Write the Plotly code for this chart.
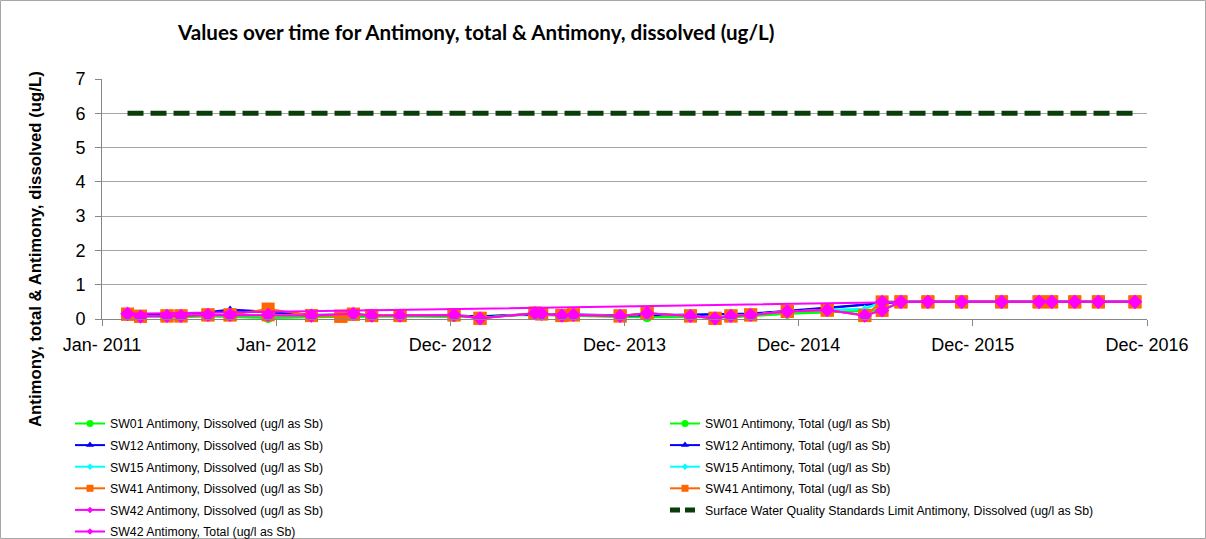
import plotly.graph_objects as go
import pandas as pd

# ---- axis setup -------------------------------------------------------------
x_start, x_end = "2011-01-05", "2016-12-14"
x_tick_labels = ["Jan- 2011", "Jan- 2012", "Dec- 2012", "Dec- 2013",
                 "Dec- 2014", "Dec- 2015", "Dec- 2016"]
y_ticks = [0, 1, 2, 3, 4, 5, 6, 7]

# ---- sampling dates ---------------------------------------------------------
sample_dates = [
    "2011-02-27", "2011-03-26", "2011-05-20", "2011-06-18", "2011-08-13",
    "2011-09-28", "2011-12-16", "2012-03-15", "2012-06-10", "2012-07-18",
    "2012-09-15", "2013-01-05", "2013-02-28", "2013-06-22", "2013-07-06",
    "2013-08-17", "2013-09-10", "2013-12-16", "2014-02-10", "2014-05-11",
    "2014-07-01", "2014-08-03", "2014-09-13", "2014-11-28", "2015-02-19",
    "2015-05-08", "2015-06-13", "2015-07-22", "2015-09-16", "2015-11-25",
    "2016-02-16", "2016-05-04", "2016-05-30", "2016-07-17", "2016-09-04",
    "2016-11-19",
]

# SW42 total antimony (ug/l as Sb)
sw42_total = [
    0.15, 0.07, 0.09, 0.09, 0.12, 0.12, 0.12, 0.10, 0.15, 0.10,
    0.10, 0.12, 0.02, 0.17, 0.15, 0.10, 0.12, 0.09, 0.17, 0.09,
    0.02, 0.09, 0.12, 0.22, 0.26, 0.10, 0.25, 0.50, 0.50, 0.50,
    0.50, 0.50, 0.50, 0.50, 0.50, 0.50,
]

# SW42 dissolved antimony
sw42_dissolved_dates = [
    "2011-02-27", "2015-06-13", "2015-07-22", "2015-09-16", "2015-11-25",
    "2016-02-16", "2016-05-04", "2016-05-30", "2016-07-17", "2016-09-04",
    "2016-11-19",
]
sw42_dissolved = [0.15, 0.50, 0.50, 0.50, 0.50, 0.50, 0.50, 0.50, 0.50, 0.50, 0.50]

# SW41 dissolved / total antimony
sw41_dates = [
    "2011-02-27", "2011-03-26", "2011-05-20", "2011-06-18", "2011-08-13",
    "2011-09-28", "2011-12-16", "2012-03-15", "2012-05-15", "2012-06-10",
    "2012-07-18", "2012-09-15", "2013-01-05", "2013-02-28", "2013-06-22",
    "2013-07-06", "2013-08-17", "2013-09-10", "2013-12-16", "2014-02-10",
    "2014-05-11", "2014-07-01", "2014-08-03", "2014-09-13", "2014-11-28",
    "2015-02-19", "2015-05-08", "2015-06-13", "2015-07-22", "2015-09-16",
    "2015-11-25", "2016-02-16", "2016-05-04", "2016-05-30", "2016-07-17",
    "2016-09-04", "2016-11-19",
]
sw41_dissolved = [
    0.14, 0.08, 0.09, 0.09, 0.12, 0.12, 0.12, 0.10, 0.08, 0.14,
    0.10, 0.10, 0.12, 0.02, 0.17, 0.15, 0.10, 0.12, 0.09, 0.17,
    0.09, 0.02, 0.09, 0.12, 0.22, 0.26, 0.10, 0.25, 0.50, 0.50,
    0.50, 0.50, 0.50, 0.50, 0.50, 0.50, 0.50,
]
sw41_total = [
    0.14, 0.08, 0.09, 0.09, 0.12, 0.12, 0.29, 0.10, 0.08, 0.14,
    0.10, 0.10, 0.12, 0.02, 0.17, 0.15, 0.10, 0.12, 0.09, 0.17,
    0.09, 0.02, 0.09, 0.12, 0.22, 0.26, 0.10, 0.50, 0.50, 0.50,
    0.50, 0.50, 0.50, 0.50, 0.50, 0.50, 0.50,
]

# SW12 dissolved / total antimony
sw12_dates = [
    "2011-02-27", "2011-06-18", "2011-09-28", "2011-12-16", "2012-03-15",
    "2012-09-15", "2013-01-05", "2013-02-28", "2013-06-22", "2013-12-16",
    "2014-05-11", "2014-09-13", "2014-11-28", "2015-02-19", "2015-06-13",
    "2015-07-22", "2015-11-25", "2016-05-04", "2016-11-19",
]
sw12_dissolved = [0.14, 0.10, 0.25, 0.20, 0.12, 0.10, 0.10, 0.06, 0.14, 0.10,
                  0.12, 0.15, 0.22, 0.32, 0.45, 0.50, 0.50, 0.50, 0.50]
sw12_total = [0.15, 0.10, 0.28, 0.20, 0.13, 0.11, 0.11, 0.07, 0.15, 0.11,
              0.12, 0.16, 0.24, 0.34, 0.46, 0.50, 0.50, 0.50, 0.50]

# SW15 dissolved / total antimony (same sampling rounds as SW42)
sw15_dissolved = [
    0.15, 0.07, 0.09, 0.09, 0.12, 0.12, 0.12, 0.10, 0.15, 0.10,
    0.10, 0.12, 0.02, 0.17, 0.15, 0.10, 0.12, 0.09, 0.17, 0.09,
    0.02, 0.09, 0.12, 0.22, 0.26, 0.28, 0.50, 0.50, 0.50, 0.50,
    0.50, 0.50, 0.50, 0.50, 0.50, 0.50,
]
sw15_total = [
    0.15, 0.08, 0.09, 0.09, 0.12, 0.12, 0.12, 0.10, 0.15, 0.10,
    0.10, 0.12, 0.03, 0.17, 0.15, 0.10, 0.12, 0.09, 0.17, 0.09,
    0.03, 0.09, 0.12, 0.22, 0.26, 0.30, 0.50, 0.50, 0.50, 0.50,
    0.50, 0.50, 0.50, 0.50, 0.50, 0.50,
]

# SW01 dissolved / total antimony
sw01_dates = [
    "2011-02-27", "2011-05-20", "2011-06-18", "2011-08-13", "2011-12-16",
    "2012-03-15", "2012-09-15", "2013-01-05", "2013-06-22", "2013-12-16",
    "2014-02-10", "2014-08-03", "2014-11-28", "2015-06-13", "2015-07-22",
    "2015-11-25", "2016-05-04", "2016-11-19",
]
sw01_dissolved = [0.10, 0.05, 0.05, 0.08, 0.03, 0.05, 0.08, 0.06, 0.12, 0.06,
                  0.05, 0.05, 0.15, 0.25, 0.50, 0.50, 0.50, 0.50]
sw01_total = [0.11, 0.06, 0.05, 0.09, 0.04, 0.06, 0.08, 0.07, 0.13, 0.07,
              0.06, 0.06, 0.16, 0.26, 0.50, 0.50, 0.50, 0.50]

# Surface water quality standard
limit_dates = ["2011-02-27", "2016-11-19"]
limit_values = [6, 6]

# ---- styling ----------------------------------------------------------------
GREEN, BLUE, CYAN, ORANGE, MAGENTA = "#00FF00", "#0000FF", "#00FFFF", "#FF6600", "#FF00FF"
LIMIT_COLOR = "#0B3D0B"

# name, dates, values, color, symbol, plot marker size, legend marker size, legend id
series = [
    ("SW01 Antimony, Dissolved (ug/l as Sb)", sw01_dates, sw01_dissolved, GREEN, "circle", 10, 7, "legend"),
    ("SW01 Antimony, Total (ug/l as Sb)", sw01_dates, sw01_total, GREEN, "circle", 10, 7, "legend2"),
    ("SW12 Antimony, Dissolved (ug/l as Sb)", sw12_dates, sw12_dissolved, BLUE, "triangle-up", 8, 7, "legend"),
    ("SW12 Antimony, Total (ug/l as Sb)", sw12_dates, sw12_total, BLUE, "triangle-up", 8, 7, "legend2"),
    ("SW15 Antimony, Dissolved (ug/l as Sb)", sample_dates, sw15_dissolved, CYAN, "diamond", 6, 5, "legend"),
    ("SW15 Antimony, Total (ug/l as Sb)", sample_dates, sw15_total, CYAN, "diamond", 6, 5, "legend2"),
    ("SW41 Antimony, Dissolved (ug/l as Sb)", sw41_dates, sw41_dissolved, ORANGE, "square", 13, 7, "legend"),
    ("SW41 Antimony, Total (ug/l as Sb)", sw41_dates, sw41_total, ORANGE, "square", 13, 7, "legend2"),
    ("SW42 Antimony, Dissolved (ug/l as Sb)", sw42_dissolved_dates, sw42_dissolved, MAGENTA, "diamond", 11, 5, "legend"),
]
limit_name = "Surface Water Quality Standards Limit Antimony, Dissolved (ug/l as Sb)"
last_series = ("SW42 Antimony, Total (ug/l as Sb)", sample_dates, sw42_total, MAGENTA, "diamond", 11, 5, "legend")

fig = go.Figure()
legend_entries = []


def add_series(name, xs, ys, color, symbol, size, legend_size, legend_id):
    fig.add_trace(go.Scatter(
        x=xs, y=ys, mode="lines+markers", name=name, showlegend=False,
        line=dict(color=color, width=2),
        marker=dict(symbol=symbol, size=size, color=color, line=dict(width=0)),
        cliponaxis=False,
    ))
    legend_entries.append(dict(
        name=name, mode="lines+markers", legend=legend_id,
        line=dict(color=color, width=2),
        marker=dict(symbol=symbol, size=legend_size, color=color, line=dict(width=0)),
    ))


for s in series:
    add_series(*s)

fig.add_trace(go.Scatter(
    x=limit_dates, y=limit_values, mode="lines", name=limit_name, showlegend=False,
    line=dict(color=LIMIT_COLOR, width=5, dash="16px,7px"),
))
legend_entries.append(dict(
    name=limit_name, mode="lines", legend="legend2",
    line=dict(color=LIMIT_COLOR, width=5, dash="10px,5px"),
))

add_series(*last_series)

# legend-only entries, each in its own group so the group gap spaces the rows
for i, entry in enumerate(legend_entries):
    fig.add_trace(go.Scatter(x=[None], y=[None], legendgroup=f"g{i}", showlegend=True, **entry))

# ---- layout -----------------------------------------------------------------
W, H = 1206, 539
L, R, T, B = 102, 1147, 79, 319  # plot area in pixels
PW, PH = R - L, B - T


def px_x(px):
    return (px - L) / PW


def px_y(py):
    return (B - py) / PH


x_ticks = pd.date_range(x_start, x_end, periods=len(x_tick_labels))

axis_grey = "#868686"
legend_common = dict(
    xref="paper", yref="paper", xanchor="left", yanchor="top",
    orientation="v", tracegroupgap=2.6, traceorder="grouped",
    font=dict(size=12.3), bgcolor="rgba(0,0,0,0)", borderwidth=0,
)
fig.update_layout(
    width=W, height=H,
    margin=dict(l=L, r=W - R, t=T, b=H - B, pad=0, autoexpand=False),
    paper_bgcolor="white", plot_bgcolor="white",
    font=dict(family="Liberation Sans, Arial, sans-serif", color="black"),
    title=dict(
        text="<b>Values over time for Antimony, total &amp; Antimony, dissolved (ug/L)</b>",
        font=dict(family="Lato, Carlito, sans-serif", size=20.6, color="black"),
        x=178 / W, xanchor="left", xref="container",
        y=1 - 33 / H, yanchor="middle", yref="container",
    ),
    xaxis=dict(
        type="date", range=[x_start, x_end],
        tickvals=list(x_ticks), ticktext=x_tick_labels, tickangle=0,
        ticks="outside", ticklen=6, tickcolor=axis_grey, tickwidth=1,
        showline=True, linecolor=axis_grey, linewidth=1,
        showgrid=False, zeroline=False, automargin=False,
        tickfont=dict(size=18), ticklabelstandoff=3,
    ),
    yaxis=dict(
        range=[0, 7], tickvals=y_ticks,
        ticks="outside", ticklen=6, tickcolor=axis_grey, tickwidth=1,
        showline=True, linecolor=axis_grey, linewidth=1,
        showgrid=True, gridcolor="#A6A6A6", gridwidth=1, zeroline=False,
        automargin=False,
        tickfont=dict(size=18), ticklabelstandoff=6,
    ),
    legend=dict(x=px_x(70), y=px_y(409), **legend_common),
    legend2=dict(x=px_x(665), y=px_y(409), **legend_common),
    showlegend=True,
)

# rotated value-axis caption
fig.add_annotation(
    text="<b>Antimony, total &amp; Antimony, dissolved (ug/L)</b>",
    textangle=-90, showarrow=False,
    xref="paper", yref="paper",
    x=px_x(36), y=px_y(249),
    xanchor="center", yanchor="middle",
    font=dict(size=16.8, color="black"),
)

# thin frame around the whole chart
fig.add_shape(
    type="rect", xref="paper", yref="paper",
    x0=px_x(0.5), x1=px_x(W - 0.5),
    y0=px_y(H - 0.5), y1=px_y(0.5),
    line=dict(color="#A6A6A6", width=1), layer="below",
)

fig.write_html("out.html")
